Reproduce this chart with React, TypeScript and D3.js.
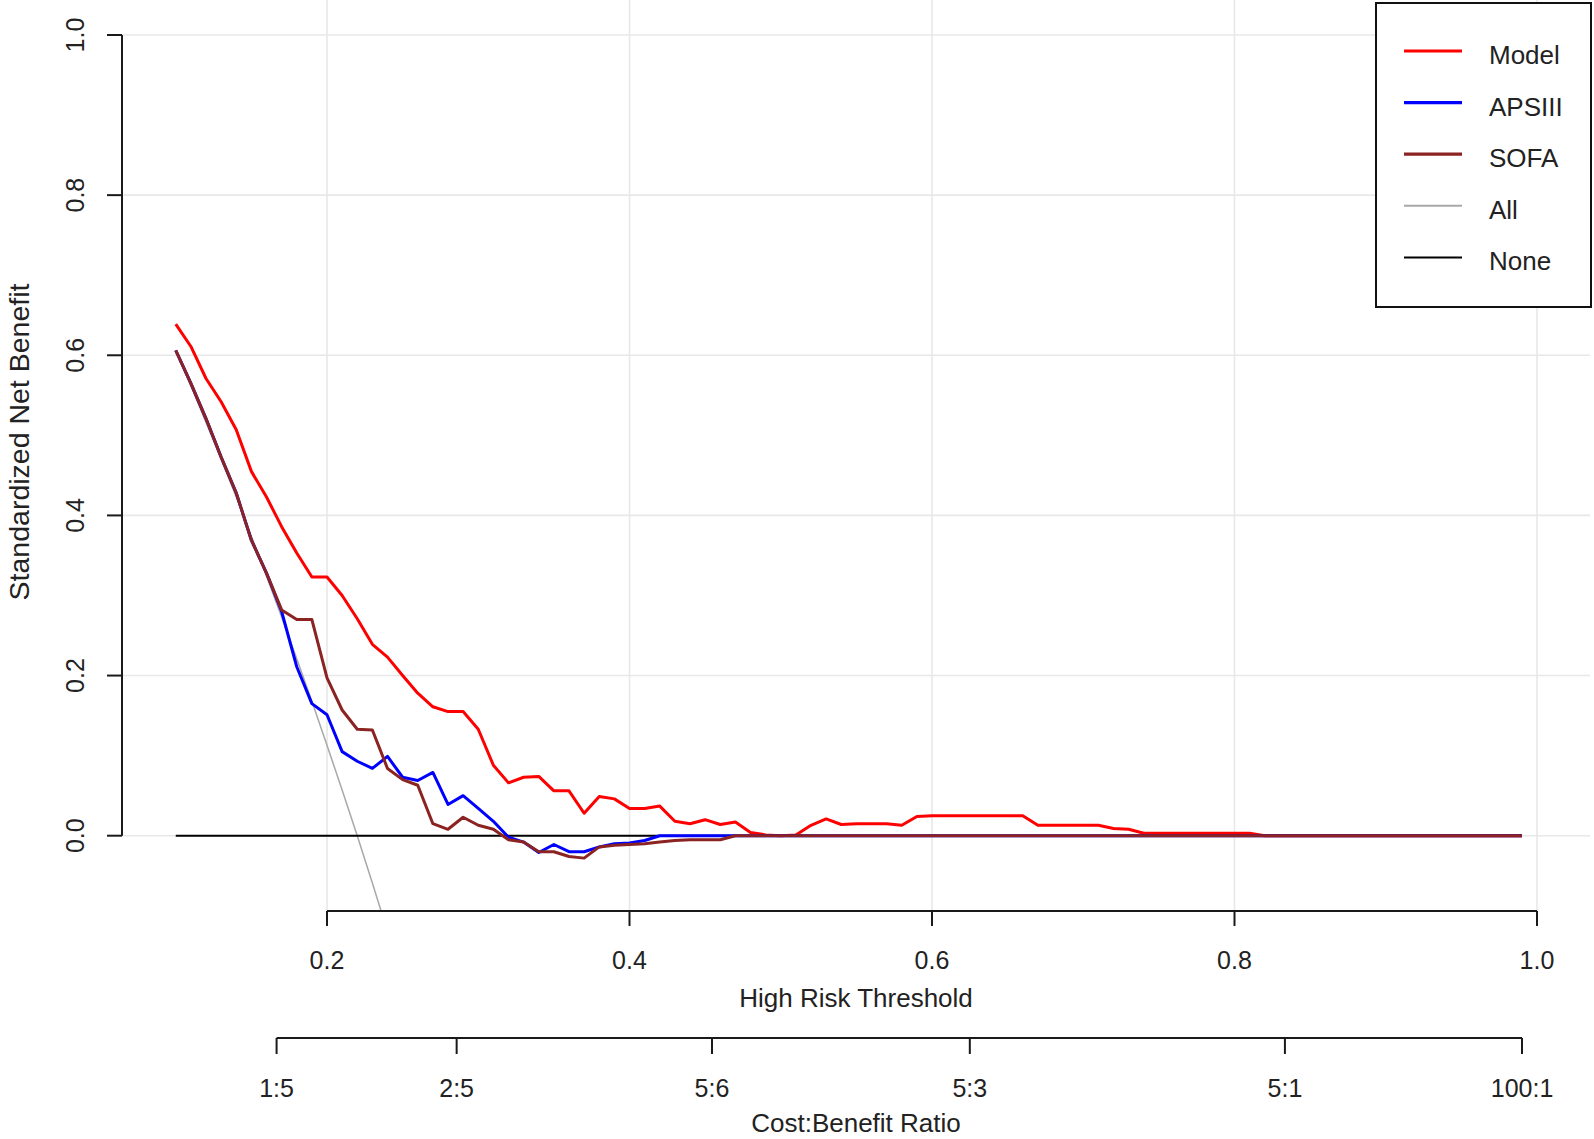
import React from "react";
import * as d3 from "d3";

// thresholds used by the decision curve (x values)
const thresholds = [
  0.1, 0.11, 0.12, 0.13, 0.14, 0.15, 0.16, 0.17, 0.18, 0.19,
  0.2, 0.21, 0.22, 0.23, 0.24, 0.25, 0.26, 0.27, 0.28, 0.29,
  0.3, 0.31, 0.32, 0.33, 0.34, 0.35, 0.36, 0.37, 0.38, 0.39,
  0.4, 0.41, 0.42, 0.43, 0.44, 0.45, 0.46, 0.47, 0.48, 0.49,
  0.5, 0.51, 0.52, 0.53, 0.54, 0.55, 0.56, 0.57, 0.58, 0.59,
  0.6, 0.61, 0.62, 0.63, 0.64, 0.65, 0.66, 0.67, 0.68, 0.69,
  0.7, 0.71, 0.72, 0.73, 0.74, 0.75, 0.76, 0.77, 0.78, 0.79,
  0.8, 0.81, 0.82, 0.83, 0.84, 0.85, 0.86, 0.87, 0.88, 0.89,
  0.9, 0.91, 0.92, 0.93, 0.94, 0.95, 0.96, 0.97, 0.98, 0.99,
];

const modelNB = [
  0.639, 0.611, 0.571, 0.542, 0.507, 0.455, 0.423, 0.386, 0.353, 0.323,
  0.323, 0.3, 0.271, 0.239, 0.223, 0.2, 0.178, 0.161, 0.155, 0.155,
  0.133, 0.088, 0.066, 0.073, 0.074, 0.056, 0.056, 0.028, 0.049, 0.046,
  0.034, 0.034, 0.037, 0.018, 0.015, 0.02, 0.014, 0.017, 0.004, 0.001,
  0, 0.001, 0.013, 0.021, 0.014, 0.015, 0.015, 0.015, 0.013, 0.024,
  0.025, 0.025, 0.025, 0.025, 0.025, 0.025, 0.025, 0.013, 0.013, 0.013,
  0.013, 0.013, 0.009, 0.008, 0.003, 0.003, 0.003, 0.003, 0.003, 0.003,
  0.003, 0.003, 0, 0, 0, 0, 0, 0, 0, 0,
  0, 0, 0, 0, 0, 0, 0, 0, 0, 0,
];

const apsNB = [
  0.606, 0.565, 0.521, 0.473, 0.428, 0.369, 0.328, 0.28, 0.211, 0.165,
  0.151, 0.105, 0.093, 0.084, 0.099, 0.073, 0.069, 0.079, 0.039, 0.05,
  0.034, 0.018, -0.002, -0.008, -0.021, -0.011, -0.02, -0.02, -0.014, -0.01,
  -0.009, -0.006, 0, 0, 0, 0, 0, 0, 0, 0,
  0, 0, 0, 0, 0, 0, 0, 0, 0, 0,
  0, 0, 0, 0, 0, 0, 0, 0, 0, 0,
  0, 0, 0, 0, 0, 0, 0, 0, 0, 0,
  0, 0, 0, 0, 0, 0, 0, 0, 0, 0,
  0, 0, 0, 0, 0, 0, 0, 0, 0, 0,
];

const sofaNB = [
  0.606, 0.565, 0.521, 0.473, 0.428, 0.369, 0.328, 0.282, 0.27, 0.27,
  0.197, 0.157, 0.133, 0.132, 0.084, 0.07, 0.063, 0.015, 0.008, 0.023,
  0.013, 0.008, -0.005, -0.008, -0.02, -0.02, -0.026, -0.028, -0.014, -0.012,
  -0.011, -0.01, -0.008, -0.006, -0.005, -0.005, -0.005, 0, 0, 0,
  0, 0, 0, 0, 0, 0, 0, 0, 0, 0,
  0, 0, 0, 0, 0, 0, 0, 0, 0, 0,
  0, 0, 0, 0, 0, 0, 0, 0, 0, 0,
  0, 0, 0, 0, 0, 0, 0, 0, 0, 0,
  0, 0, 0, 0, 0, 0, 0, 0, 0, 0,
];

// treat-all line, only the visible part (it leaves the plot below)
const allNB = [
  0.606, 0.562, 0.516, 0.47, 0.423, 0.374, 0.324, 0.273, 0.221, 0.168,
  0.113, 0.057, 0.0, -0.059, -0.12,
];

const yTicks = [0, 0.2, 0.4, 0.6, 0.8, 1.0];
const xTicks = [0.2, 0.4, 0.6, 0.8, 1.0];
const ratioLabels = ["1:5", "2:5", "5:6", "5:3", "5:1", "100:1"];

const legendNames = ["Model", "APSIII", "SOFA", "All", "None"];
const legendColors = ["#ff0000", "#0000ff", "#8b2323", "#a8a8a8", "#000000"];
const legendWidths = [2.8, 3.2, 3.2, 2, 2];

const W = 1594;
const H = 1139;
const FONT = "'Liberation Sans', Arial, Helvetica, sans-serif";

// plot region (R style)
const plotLeft = 122;
const plotRight = 1590;
const plotTop = 2;
const plotBottom = 911;
const ratioAxisY = 1038;

const App = () => {
  const x = d3.scaleLinear().domain([0.2, 1.0]).range([327, 1537]);
  const y = d3.scaleLinear().domain([0, 1]).range([835.7, 35]);

  const line = d3
    .line<[number, number]>()
    .x((d) => x(d[0]))
    .y((d) => y(d[1]));

  const series = [
    { vals: modelNB, color: legendColors[0], w: 3 },
    { vals: apsNB, color: legendColors[1], w: 3 },
    { vals: sofaNB, color: legendColors[2], w: 3 },
  ];

  const allPts = allNB.map((v, i) => [thresholds[i], v] as [number, number]);
  const nonePts: [number, number][] = [
    [thresholds[0], 0],
    [thresholds[thresholds.length - 1], 0],
  ];

  const ratioPos = ratioLabels.map((s) => {
    const [c, b] = s.split(":").map(Number);
    return x(c / (c + b));
  });

  const axisColor = "#1a1a1a";
  const gridColor = "#e8e8e8";

  return (
    <svg
      width={W}
      height={H}
      style={{ position: "absolute", left: 0, top: 0, background: "#fff" }}
      fontFamily={FONT}
    >
      <defs>
        <clipPath id="plotClip">
          <rect
            x={plotLeft}
            y={plotTop}
            width={plotRight - plotLeft}
            height={plotBottom - plotTop}
          />
        </clipPath>
      </defs>
      <rect width={W} height={H} fill="#fff" />

      {/* grid */}
      <g stroke={gridColor} strokeWidth={1.6}>
        {yTicks.map((t) => (
          <line key={"gy" + t} x1={plotLeft} x2={plotRight} y1={y(t)} y2={y(t)} />
        ))}
        {xTicks.map((t) => (
          <line key={"gx" + t} x1={x(t)} x2={x(t)} y1={0} y2={plotBottom} />
        ))}
      </g>

      {/* curves */}
      <g clipPath="url(#plotClip)" fill="none" strokeLinejoin="round">
        <path d={line(allPts) || ""} stroke={legendColors[3]} strokeWidth={1.5} />
        <path d={line(nonePts) || ""} stroke="#000" strokeWidth={2} />
        {series.map((s, k) => (
          <path
            key={k}
            d={line(s.vals.map((v, i) => [thresholds[i], v] as [number, number])) || ""}
            stroke={s.color}
            strokeWidth={s.w}
          />
        ))}
      </g>

      {/* y axis */}
      <g stroke={axisColor} strokeWidth={2}>
        <line x1={plotLeft} x2={plotLeft} y1={y(0)} y2={y(1)} />
        {yTicks.map((t) => (
          <line key={"ty" + t} x1={plotLeft - 15} x2={plotLeft} y1={y(t)} y2={y(t)} />
        ))}
      </g>
      {yTicks.map((t) => (
        <text
          key={"ly" + t}
          transform={`translate(84,${y(t)}) rotate(-90)`}
          textAnchor="middle"
          fontSize={25}
          fill="#222"
        >
          {d3.format(".1f")(t)}
        </text>
      ))}
      <text
        transform="translate(29,442) rotate(-90)"
        textAnchor="middle"
        fontSize={28.5}
        fill="#222"
      >
        Standardized Net Benefit
      </text>

      {/* x axis */}
      <g stroke={axisColor} strokeWidth={2}>
        <line x1={x(xTicks[0])} x2={x(xTicks[xTicks.length - 1])} y1={plotBottom} y2={plotBottom} />
        {xTicks.map((t) => (
          <line key={"tx" + t} x1={x(t)} x2={x(t)} y1={plotBottom} y2={plotBottom + 15} />
        ))}
      </g>
      {xTicks.map((t) => (
        <text key={"lx" + t} x={x(t)} y={969} textAnchor="middle" fontSize={25} fill="#222">
          {d3.format(".1f")(t)}
        </text>
      ))}
      <text x={(plotLeft + plotRight) / 2} y={1007} textAnchor="middle" fontSize={26} fill="#222">
        High Risk Threshold
      </text>

      {/* cost:benefit axis */}
      <g stroke={axisColor} strokeWidth={2}>
        <line x1={ratioPos[0]} x2={ratioPos[ratioPos.length - 1]} y1={ratioAxisY} y2={ratioAxisY} />
        {ratioPos.map((p, i) => (
          <line key={"tr" + i} x1={p} x2={p} y1={ratioAxisY} y2={ratioAxisY + 16} />
        ))}
      </g>
      {ratioLabels.map((s, i) => (
        <text key={"lr" + s} x={ratioPos[i]} y={1097} textAnchor="middle" fontSize={25} fill="#222">
          {s}
        </text>
      ))}
      <text x={(plotLeft + plotRight) / 2} y={1132} textAnchor="middle" fontSize={26} fill="#222">
        Cost:Benefit Ratio
      </text>

      {/* legend */}
      <rect x={1376} y={3} width={215} height={304} fill="#fff" stroke="#111" strokeWidth={2} />
      {legendNames.map((name, i) => {
        const ly = 51 + i * 51.6;
        return (
          <g key={name}>
            <line
              x1={1404}
              x2={1462}
              y1={ly}
              y2={ly}
              stroke={legendColors[i]}
              strokeWidth={legendWidths[i]}
            />
            <text x={1489} y={ly + 13} fontSize={26} fill="#222">
              {name}
            </text>
          </g>
        );
      })}
    </svg>
  );
};

export default App;
